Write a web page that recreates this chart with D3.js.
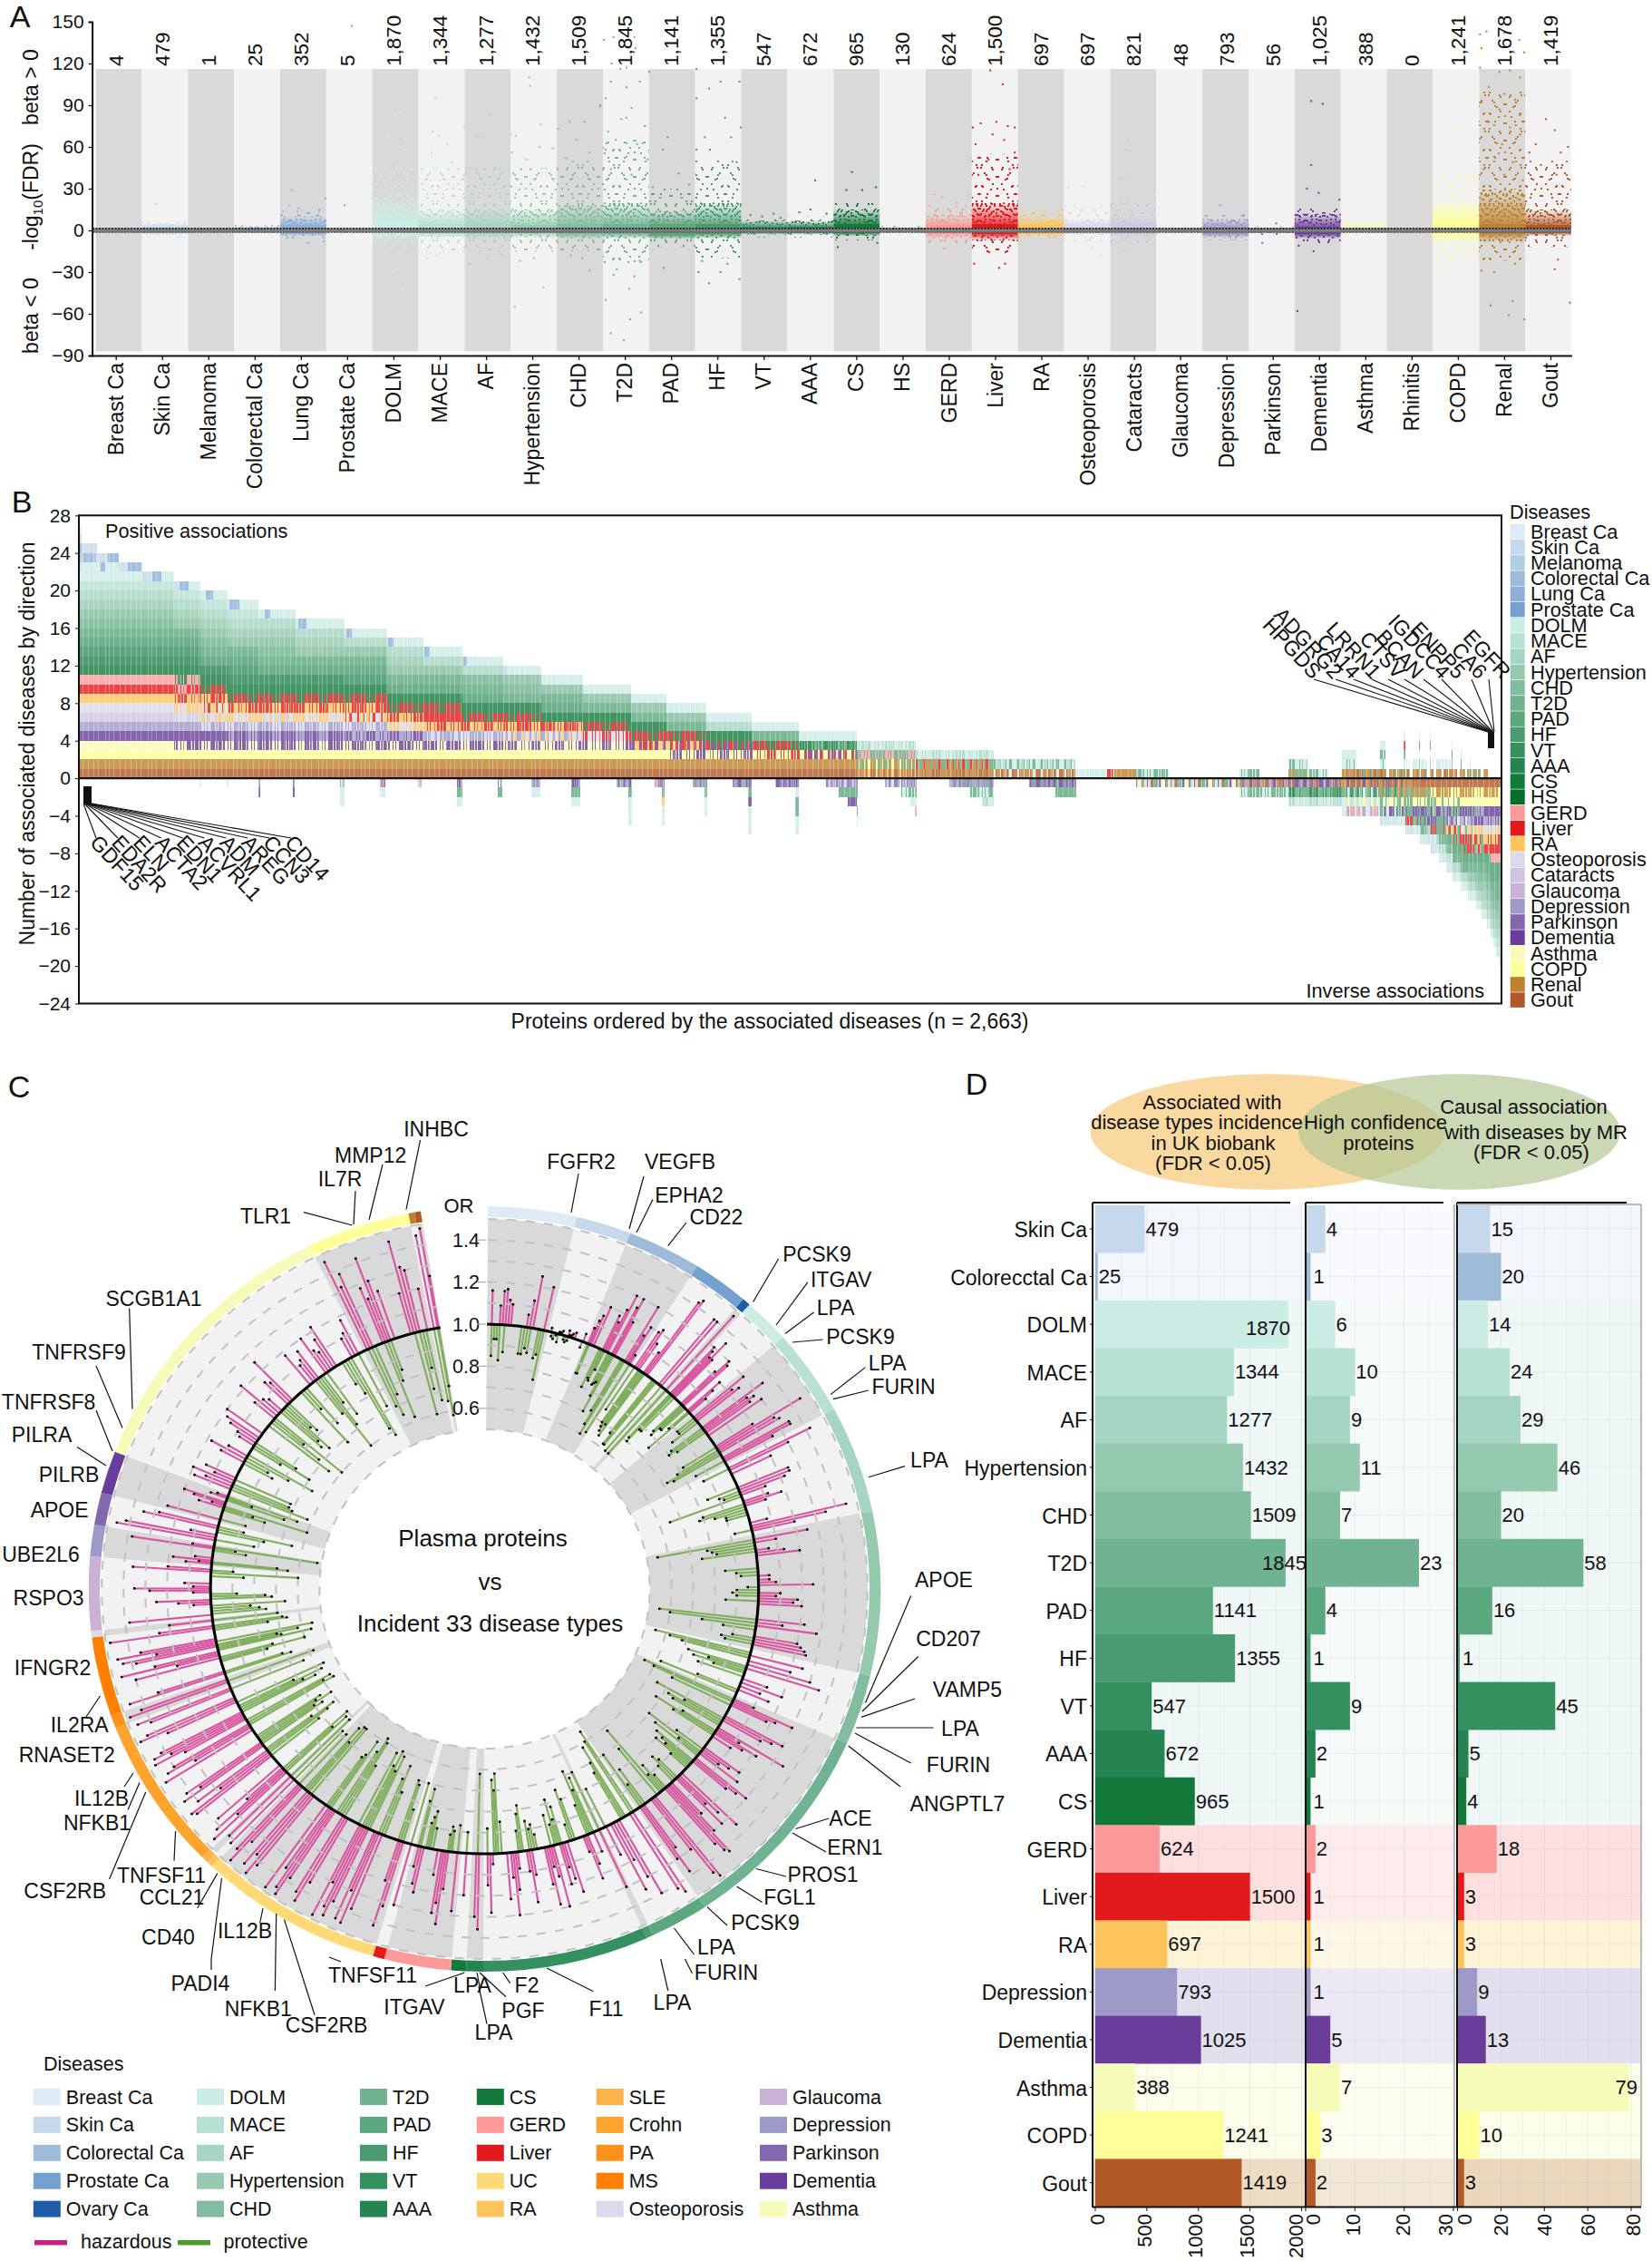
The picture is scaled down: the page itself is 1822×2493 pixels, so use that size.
<!DOCTYPE html>
<html><head><meta charset="utf-8">
<script src="https://cdn.jsdelivr.net/npm/d3@7"></script>
<style>html,body{margin:0;background:#fff}svg{display:block}text{font-family:"Liberation Sans",Arial,sans-serif;fill:#111}</style>
</head><body><svg id="c" width="1822" height="2493"></svg>
<script>
// ---------- shared disease colours
const colorOf={"Breast Ca":"#deebf7","Skin Ca":"#c6d9ec","Melanoma":"#b3cde3","Colorectal Ca":"#9ebcda","Lung Ca":"#8cb0d8","Prostate Ca":"#74a1cf","Ovary Ca":"#1c5da5","DOLM":"#ccece6","MACE":"#b8e0d4","AF":"#a6d5c4","Hypertension":"#95caaf","CHD":"#82bda0","T2D":"#6fb392","PAD":"#5ca87e","HF":"#4a9c70","VT":"#359060","AAA":"#258451","CS":"#137a3c","HS":"#006d2c","GERD":"#fb9a99","Liver":"#e31a1c","UC":"#fed976","RA":"#fec45c","SLE":"#feb24c","Crohn":"#fea32e","PA":"#fe9218","MS":"#ff7f00","Osteoporosis":"#dadaeb","Cataracts":"#d0c6e2","Glaucoma":"#c9b2d6","Depression":"#9e9ac8","Parkinson":"#8368b0","Dementia":"#6a3d9a","Asthma":"#f7fbb9","Rhinitis":"#dddddd","COPD":"#ffff99","Renal":"#bf812d","Gout":"#b15928"};

// ---------- panel A data
const diseasesA=["Breast Ca","Skin Ca","Melanoma","Colorectal Ca","Lung Ca","Prostate Ca","DOLM","MACE","AF","Hypertension","CHD","T2D","PAD","HF","VT","AAA","CS","HS","GERD","Liver","RA","Osteoporosis","Cataracts","Glaucoma","Depression","Parkinson","Dementia","Asthma","Rhinitis","COPD","Renal","Gout"];
const countsA=["4","479","1","25","352","5","1,870","1,344","1,277","1,432","1,509","1,845","1,141","1,355","547","672","965","130","624","1,500","697","697","821","48","793","56","1,025","388","0","1,241","1,678","1,419"];
const coreUp=[.5,3,.5,1.5,4,.5,8,5,5,4,5,5,5,5,3,3,5,1,4,5,4,4,4,1,3,.5,3,2,0,8,5,4];
const midUp=[1,5,1,3,10,1,25,15,15,15,18,20,14,20,7,7,15,2,11,20,10,8,10,2,8,2,12,6,0,18,30,15];
const sparseUp=[1.5,6,1.5,4,14,1.5,45,45,45,45,50,65,30,50,9,10,20,3,18,55,14,18,22,3,11,3,17,10,0,40,100,50];
const coreDown=[.5,2,.5,1,2,.5,3,3,3,2,3,3,4,3,1.5,1.5,2,.5,2,3,2,2,2,.5,3,1,3,1,0,3,3,2];
const midDown=[1,3,1,2,4,1,6,5,5,5,6,6,6,6,3,3,4,1,6,7,4,3,4,1,5,2,6,2,0,8,8,4];
const sparseDown=[1.5,5,1,2,6,1.5,13,15,15,15,15,25,12,20,5,5,7,1.5,10,18,6,8,10,1.5,7,4,10,5,0,22,22,12];
const outSkin=[[28,19],[33,19]];
const outLung=[[25,29],[20,18],[40,16],[98,23],[85,15],[60,-9],[95,-8]];
const outProstate=[[55,147],[40,18]];
const outDOLM=[[50,83],[60,85],[36,68],[72,66],[42,50],[70,58],[-3,23],[30,40],[65,-42],[55,-28],[10,-22]];
const outMACE=[[37,95],[30,71],[45,68],[62,62],[100,74],[28,56],[73,49],[40,-18],[20,-20]];
const outAF=[[56,83],[28,68],[42,67],[100,69],[25,44],[76,44],[10,-24],[50,-20],[80,-18]];
const outHyp=[[40,110],[42,104],[11,68],[65,76],[34,51],[63,60],[91,59],[3,56],[71,-41],[9,-55],[50,-20],[20,-22]];
const outCHD=[[28,78],[60,78],[3,73],[42,65],[71,56],[94,89],[20,52],[71,-29],[30,-18],[55,-20]];
const outT2D=[[2,137],[23,139],[68,139],[51,132],[70,131],[19,120],[38,116],[51,117],[17,107],[80,107],[51,103],[6,95],[40,80],[51,81],[62,88],[-6,90],[11,71],[91,75],[28,65],[74,62],[6,58],[51,53],[97,51],[17,44],[62,40],[6,-50],[57,-42],[83,-59],[59,-64],[17,-74],[45,-79],[23,-32],[68,-33],[30,-28],[80,-22]];
const outPAD=[[0,114],[40,67],[30,58],[64,41],[8,31],[87,33],[32,-27]];
const outHF=[[3,116],[3,95],[30,102],[55,107],[96,107],[65,81],[99,74],[21,67],[78,67],[3,58],[32,58],[90,49],[96,-35],[30,-38],[7,-30],[55,-30],[15,-22],[70,-24]];
const outVT=[[20,11],[45,10],[70,12],[85,9]];
const outAAA=[[60,36],[26,13],[50,15],[85,12]];
const outCS=[[40,42],[28,29],[62,29],[92,31],[9,-12],[95,-9]];
const outGERD=[[19,26],[36,24],[68,20],[80,15],[40,-13]];
const outLiver=[[40,115],[67,105],[19,77],[53,78],[78,75],[93,74],[45,69],[2,74],[70,65],[8,62],[93,56],[36,51],[82,44],[14,40],[59,-27],[72,-24],[5,-24]];
const outRA=[[50,14],[95,15],[30,12]];
const outOsteo=[[41,32],[9,31],[80,-18],[60,-12]];
const outCat=[[38,65],[33,58],[21,37],[38,36],[96,29],[30,-14]];
const outDep=[[38,18],[90,11]];
const outPark=[[60,5],[30,-9]];
const outDem=[[36,93],[61,91],[36,47],[27,30],[52,27],[97,22],[6,-58],[41,-15],[9,-11]];
const outAsth=[[70,17],[40,12]];
const outCOPD=[[25,94],[71,79],[48,75],[17,70],[54,72],[2,53],[42,49],[93,96],[100,130],[30,-32],[14,-25],[93,-38],[8,-28]];
const outRenal=[[2,141],[16,143],[55,142],[87,137],[98,128],[5,131],[2,117],[44,114],[67,115],[89,110],[21,103],[55,98],[78,94],[5,92],[44,87],[89,83],[21,78],[67,74],[5,67],[50,62],[89,69],[33,53],[73,49],[10,44],[55,40],[95,36],[25,-54],[73,-51],[64,-61],[98,-64],[33,-30],[78,-24],[5,-29]];
const outGout=[[45,80],[64,72],[23,62],[9,56],[77,56],[93,60],[34,47],[68,40],[97,-52],[64,-28],[71,-21]];
const outliersA={"Skin Ca":outSkin,"Lung Ca":outLung,"Prostate Ca":outProstate,"DOLM":outDOLM,"MACE":outMACE,"AF":outAF,"Hypertension":outHyp,"CHD":outCHD,"T2D":outT2D,"PAD":outPAD,"HF":outHF,"VT":outVT,"AAA":outAAA,"CS":outCS,"GERD":outGERD,"Liver":outLiver,"RA":outRA,"Osteoporosis":outOsteo,"Cataracts":outCat,"Depression":outDep,"Parkinson":outPark,"Dementia":outDem,"Asthma":outAsth,"COPD":outCOPD,"Renal":outRenal,"Gout":outGout};
// speckle textures used as fills of the density tiers
const speckleDense=[[1,3],[6,1],[11,5],[16,2],[22,6],[27,1],[33,4],[38,2],[3,9],[8,7],[14,10],[19,8],[25,11],[30,7],[36,9],[1,14],[5,13],[10,16],[17,14],[21,13],[28,15],[33,12],[38,15],[4,19],[9,21],[13,18],[19,20],[24,18],[29,21],[35,19],[2,24],[7,26],[12,23],[16,26],[22,24],[27,27],[32,24],[37,26],[4,30],[10,29],[15,32],[20,30],[25,33],[30,30],[35,32],[38,29],[1,35],[6,37],[12,35],[18,37],[23,38],[28,36],[33,38],[38,36]];
const speckleThin=[[3,5],[14,2],[26,8],[36,4],[8,13],[20,15],[31,17],[2,21],[13,24],[24,26],[37,24],[7,32],[18,34],[30,36],[38,13],[33,30],[19,7],[10,37]];

// ---------- panel B data
const codeToDisease={G:"Gout",R:"Renal",C:"COPD",A:"Asthma",D:"Dementia",P:"Parkinson",d:"Depression",g:"Glaucoma",c:"Cataracts",o:"Osteoporosis",a:"RA",L:"Liver",E:"GERD",S:"HS",s:"CS",v:"AAA",t:"VT",f:"HF",p:"PAD","2":"T2D",h:"CHD",y:"Hypertension",i:"AF",m:"MACE",l:"DOLM",x:"Prostate Ca",u:"Lung Ca",r:"Colorectal Ca",n:"Melanoma",k:"Skin Ca",b:"Breast Ca"};
const stackFull="G R C A D d c o a L E s v t f p 2 h y i m l";
// [last protein rank of the step, stack from zero upward]
const posSteps=[[3,stackFull+" k r u k b"],[33,stackFull+" l kr k"],[73,stackFull+" l k"],[118,stackFull+" k"],[176,stackFull],
[226,"G R C DA D d co ao aL LE Es s v t f p h y i m l"],[277,"G R C DA D do oac aoL La Ls s v f p 2 h y i m l"],[334,"G R C DA Dd do oa aL Ls s v t f p h y i m l"],[405,"G R C DA Dd do aoc La Ls s v f p 2 h y i l"],[496,"G R C DA Dd do oa aL Ls s v f p h y i l"],[575,"G R C DA dD do oaL La Ls s t f p h i l"],[643,"G R C DA dD oa aL Ls s f p h y i l"],[716,"G R C DA dod aL L Ls s f p h i l"],[793,"G R C DA do aL Ls s f p 2 i l"],[864,"G R C AD doa La Ls s p 2 h l"],[942,"G R C AD doa La s f p h l"],[1033,"G R C AD oL Ls s p h l"],[1098,"G R C aLD Ls s p h l"],[1174,"G R CD LaD Ls p h l"],[1258,"G R CD LsD s i l"],[1346,"G R CL Ls p l"],[1456,"G R CDL sp l"],[1566,"GRa RpC pE li"],[1712,"RG pRL li"],[1865,"GRl lip"],[1924,"l"],[1934,"LE"],[1944,"Rl"],[1978,"R"],[2039,"pl"],[2172,""],[2210,"pl"],[2264,""],[2300,"pR lp"],[2338,"lp"],[2364,""],[2391,"RG lp l"],[2435,"RGp"],[2445,"RG pl lp l"],[2480,"RGp_"],[2483,"RG pl lp L l"],[2508,"RGp_ l_"],[2510,"RG pL lp L l"],[2529,"RGp_ l_"],[2531,"RG pL lp L l"],[2569,"RG_ l_"],[2571,"RG p D l"],[2586,"RG_"],[2588,"RG p l"],[2604,"Rp_"],[2606,"R_ l_"],[2637,"Rp_"],[2663,""]];
const posPatches=[[5,30,23,"ru"],[39,48,22,"u"],[53,73,23,"u"],[90,115,22,"u"],[118,136,21,"k"],[136,153,21,"u"],[176,186,20,"k"],[186,204,20,"u"],[236,249,19,"u"],[280,299,18,"u"],[346,356,17,"u"],[409,425,16,"u"],[500,509,15,"u"],[578,587,14,"u"],[645,655,13,"u"],[719,726,12,"u"],[793,800,11,"k"]];
// [first rank, last rank, stack from zero downward]
const negSteps=[[224,227,"b"],[275,278,"b"],[334,338,"pD D"],[399,403,"dP D"],[488,496,"ld l l"],[563,573,"PE l"],[634,640,"cE"],[706,716,"Dd p l"],[783,791,"lP p"],[845,862,"Pd l"],[920,938,"Dd p l"],[1005,1028,"Ddp"],[1028,1034,"Ddp p l l l"],[1077,1090,"PdE"],[1090,1095,"Pd p a l l"],[1148,1170,"Pdp"],[1170,1175,"Pd p l l"],[1223,1252,"DPdp"],[1252,1258,"DP p D l l l"],[1303,1340,"DPd"],[1340,1346,"DP l p p l l"],[1397,1422,"Pdc"],[1422,1438,"Pdc p"],[1438,1455,"Pdc p D"],[1455,1458,"Pd p l p l"],[1508,1538,"Pdl"],[1538,1555,"Pdl lp"],[1555,1565,"Pd lp l"],[1565,1568,"Pd lp l E"],[1628,1668,"Pdp"],[1668,1690,"Pdp pl"],[1690,1712,"Pdp pl li"],[1778,1827,"DPp"],[1827,1866,"DPp p"],[1978,2172,"plDcAG"],[2172,2264,"DdRPG pl"],[2264,2364,"DPdG ps li"],[2364,2435,"RGD pvl lmC lEd"],[2435,2483,"GRD pRv Cpl Dpl lk"],[2483,2510,"GR Rp Cp Dp pL lk"],[2510,2530,"G Rp Cp Dp pD pi lk"],[2530,2546,"G RC Cp DAp pD pL il lk"],[2546,2559,"G RC CAp Ddp pD pL ph il lk"],[2559,2571,"G RC CAp Dp dDl Lap fp ph il lk"],[2571,2587,"G RC CAp Dp dDl Lap Lp f p i l"],[2587,2601,"G RC CA Dp dDl oap Lp fL f p i l"],[2601,2615,"G RC CA Dp dD oap aLp Lp f p h i l"],[2615,2626,"G RC CA Dd dD oa aLp LEp f p 2 h i l"],[2626,2636,"G RC CA Dd dD oa aLp LEp f p 2 h y i l"],[2636,2643,"G RC CA D dD oa aL LE f f p 2 h y i l"],[2643,2648,"G RC CA D dD oa aL L E f f p 2 h y i l"],[2648,2653,"G RC CA D dD oa aL L E f f p p 2 h y i l"],[2653,2658,"G RC CA D dD oa aL L E f f p p 2 h y i m l"],[2658,2661,"G RC CA D d oa aL L E f f p p 2 2 h y i m l"],[2661,2663,"G RC CA D d oa aL L E f f p p 2 2 h y i m l k b"]];
const legendB=["Breast Ca","Skin Ca","Melanoma","Colorectal Ca","Lung Ca","Prostate Ca","DOLM","MACE","AF","Hypertension","CHD","T2D","PAD","HF","VT","AAA","CS","HS","GERD","Liver","RA","Osteoporosis","Cataracts","Glaucoma","Depression","Parkinson","Dementia","Asthma","COPD","Renal","Gout"];
const genesBLeft=["GDF15","EDA2R","ELN","ACTA2","EDN1","ACVRL1","ADM","AREG","CCN3","CD14"];
const genesBRight=["HPGDS","ADGRG2","CA14","LRRN1","CTSV","BCAN","IGDCC4","ENPP5","CA6","EGFR"];

// ---------- panel C data : one array of odds ratios per disease, in angular order
const ringNames=["Breast Ca","Skin Ca","Colorectal Ca","Prostate Ca","Ovary Ca","DOLM","MACE","AF","Hypertension","CHD","T2D","PAD","HF","VT","AAA","CS","GERD","Liver","UC","RA","SLE","Crohn","PA","MS","Osteoporosis","Glaucoma","Depression","Parkinson","Dementia","Asthma","COPD","Renal","Gout"];
const ringSpan=[13,8.1,10.9,8.3,1.2,6.9,13.1,16.2,24.9,10.7,32.4,8.6,1,24.4,2.5,2.2,9.8,1.7,27.1,1,1,23.2,2,12,1,11.2,4.8,4.9,6.4,42.7,15.2,.9,.9];
const hazBreast=[1.16,1.09,1.16,1.17,1.12,1.1,1.06,1.13,1.25,1.21];
const proBreast=[.85,.93,.93,.83,.87,.87,.87,.9,.88,.86,.88,.76];
const hazSkin=[1.02,1.01,1.01,1.02,1.03,1.01,1.01,1.02,1.03,1.04];
const proSkin=[.98,.97,.99,.96,.98,.97,.98,.97];
const hazColo=[1.08,1.12,1.15,1.2,1.18,1.15,1.22,1.3,1.25,1.3,1.18,1.3,1.15,1.2,1.05];
const proColo=[.85,.85,.8,.85,.84,.9,.83,.84,.85,.78,.7,.72,.65,.6,.62];
const hazPros=[1.2,1.22,1.15,1.12,1.42,1.44,1.4,1.4];
const proPros=[.76,.7,.68,.66,.7,.64,.68,.62,.62,.6];
const hazOvary=[1.47];const proOvary=[.6];
const hazDOLM=[1.3,1.28,1.25,1.35,1.25,1.22,1.3,1.28,1.2,1.15,1.1];
const proDOLM=[.72,.7,.78,.78,.82,.8,.85,.85,.88,.75];
const hazMACE=[1.3,1.22,1.25,1.35,1.25,1.28,1.25,1.3,1.2,1.45,1.3,1.32,1.35,1.35,1.25];
const proMACE=[.9,.9,.85,.82,.8,.84,.82,.78,.72,.75,.85];
const hazAF=[1.42,1.3,1.2,1.25,1.25,1.22,1.12,1.12,1.18,1.1,1.08,1.45,1.35,1.2];
const proAF=[.87,.85,.9,.92,.65,.8,.78,.85,.9,.9,.92];
const hazHyp=[1.25,1.1,1.06,1.13,1.2,1.05,1.05,1.08,1.25,1.1,1.08,1.18,1.16,1.2,1.22,1.12,1.28,1.2,1.22,1.24,1.25];
const proHyp=[.55,.78,.8,.82,.75,.85,.9,.92,.95,.9,.88,.9,.85,.55,.6,.75,.85,.9,.85,.87];
const hazCHD=[1.25,1.2,1.3,1.35,1.12,1.2,1.1,1.15];
const proCHD=[.55,.62,.68,.72,.82,.75,.85,.78,.8,.62];
const hazT2D=[1.1,1.3,1.22,1.18,1.3,1.25,1.2,1.35,1.12,1.22,1.15,1.1,1.2,1.15,1.1,1.22,1.3,1.25,1.2,1.35,1.25,1.18,1.3,1.2,1.3,1.42,1.4,1.35,1.48,1.45,1.3,1.25,1.38,1.3];
const proT2D=[.55,.6,.7,.65,.8,.72,.75,.82,.68,.78,.85,.7,.88,.75,.78,.82,.85,.8,.9,.88,.85,.9,.92,.85,.9,.62,.72,.8,.88,.7];
const hazPAD=[1.45,1.42,1.4,1.3,1.2,1.35,1.15];
const proPAD=[.55,.6,.62,.7,.75,.8];
const hazHF=[1.3];const proHF=[.7];
const hazVT=[1.1,1.15,1.22,1.08,1.25,1.18,1.12,1.2,1.3,1.15,1.1,1.28,1.18,1.12,1.25,1.1,1.08,1.18,1.3,1.12,1.22,1.05,1.28,1.15];
const proVT=[.72,.78,.68,.85,.8,.75,.92,.82,.88,.78,.9,.85,.93,.88,.9,.86,.78,.82,.9,.85,.62,.7,.65,.88];
const hazAAA=[1.36,1.3];const proAAA=[.62];
const hazCS=[1.2];const proCS=[.9];
const hazGERD=[1.28,1.18,1.35,1.25,1.3,1.12,1.22,1.18,1.1];
const proGERD=[.87,.9,.88,.92,.9,.82,.85,.88,.72,.78];
const hazLiver=[1.3];const proLiver=[.7];
const hazUC=[1.32,1.42,1.2,1.38,1.46,1.3,1.45,1.38,1.46,1.42,1.3,1.48,1.35,1.46,1.42,1.38,1.48,1.45,1.35,1.48,1.42,1.48,1.38,1.45,1.35,1.48,1.42];
const proUC=[.84,.72,.7,.78,.65,.72,.62,.7,.6,.68,.62,.72,.6,.58,.66,.62,.7,.72,.6,.6,.7,.62,.68];
const hazRA=[1.42];const proRA=[.68];
const hazSLE=[1.4];const proSLE=[.62];
const hazCrohn=[1.46,1.3,1.42,1.22,1.38,1.44,1.46,1.28,1.4,1.45,1.35,1.42,1.47,1.3,1.44,1.4,1.32,1.47,1.38,1.46,1.42,1.35,1.48,1.44,1.4,1.46];
const proCrohn=[.62,.7,.6,.72,.66,.62,.74,.66,.7,.6,.68,.65,.55,.6,.56,.62,.68,.58,.72,.56,.64];
const hazPA=[1.48,1.42];const proPA=[.58];
const hazMS=[1.46,1.32,1.4,1.2,1.46,1.3,1.38,1.44,1.28,1.46,1.35,1.48,1.25];
const proMS=[.68,.72,.78,.6,.75,.56,.7,.72,.62,.55,.75,.66,.68];
const hazOsteo=[1.2];const proOsteo=[.7];
const hazGlau=[1.38,1.08,1.15,1.25,1.08,1.28,1.35,1.08,1.12,1.36,1.2];
const proGlau=[.75,.78,.82,.66,.72,.75,.88,.85,.6,.9];
const hazDep=[1.12,1.06,1.18,1.08,1.38,1.1];
const proDep=[.65,.7,.85,.9,.52];
const hazPark=[1.46,1.42,1.12,1.35,1.28];
const proPark=[.82,.78,.65,.88];
const hazDem=[1.25,1.12,1.06,1.15,1.2,1.08,1.05];
const proDem=[.88,.8,.86,.6,.72,.88,.66];
const hazAsth=[1.18,1.13,1.2,1.1,1.15,1.12,1.18,1.1,1.08,1.1,1.15,1.18,1.2,1.12,1.22,1.1,1.08,1.15,1.13,1.25,1.18,1.1,1.12,1.16,1.2,1.12,1.1,1.16,1.22,1.1,1.12,1.18];
const proAsth=[.62,.7,.72,.72,.85,.88,.78,.66,.85,.7,.78,.65,.72,.82,.6,.75,.78,.72,.85,.82,.68,.88,.78,.8,.6,.72,.84,.76,.88,.82,.62,.58,.72];
const hazCOPD=[1.46,1.32,1.38,1.28,1.22,1.42,1.3,1.24,1.2,1.45,1.32,1.3,1.2];
const proCOPD=[.7,.65,.75,.62,.8,.85,.6,.72,.82,.66];
const hazRenal=[1.45];const proRenal=[.65];
const hazGout=[1.48,1.25];const proGout=[.58,.72];
const hazByDisease=[hazBreast,hazSkin,hazColo,hazPros,hazOvary,hazDOLM,hazMACE,hazAF,hazHyp,hazCHD,hazT2D,hazPAD,hazHF,hazVT,hazAAA,hazCS,hazGERD,hazLiver,hazUC,hazRA,hazSLE,hazCrohn,hazPA,hazMS,hazOsteo,hazGlau,hazDep,hazPark,hazDem,hazAsth,hazCOPD,hazRenal,hazGout];
const proByDisease=[proBreast,proSkin,proColo,proPros,proOvary,proDOLM,proMACE,proAF,proHyp,proCHD,proT2D,proPAD,proHF,proVT,proAAA,proCS,proGERD,proLiver,proUC,proRA,proSLE,proCrohn,proPA,proMS,proOsteo,proGlau,proDep,proPark,proDem,proAsth,proCOPD,proRenal,proGout];
// relative spacing between neighbouring proteins (they sit in tight bundles)
const bundleGaps=[1,.35,.35,.35,.35,2,.4,.4,1.4,.35,.35,.35,.6,2.2,.4,.4,.4,1,.35,.35,2.6,.5,.35,.35];
const orTicks=[1.4,1.2,1.0,0.8,0.6];
const orGrid=[.5,.6,.7,.8,.9,1.1,1.2,1.3,1.4,1.5];
const geneLabels=[["INHBC",481,1245,463.5,1257,448,1333.5],["MMP12",408.6,1273.5,422,1284,407,1345],["IL7R",375,1300,392,1313,390,1350],["TLR1",293,1341,335,1336.7,388.5,1351],["SCGB1A1",169.5,1432,142.7,1442.5,146,1553.5],["TNFRSF9",87,1491,106,1506,135,1574.5],["TNFRSF8",53.6,1546,106,1555,124,1600],["PILRA",46,1582,85,1595.6,117,1616],["PILRB",76,1626],["APOE",65.6,1664.5],["UBE2L6",45,1714],["RSPO3",53.6,1762],["IFNGR2",58,1839],["IL2RA",87.7,1902,110.5,1870,95,1893],["RNASET2",73.7,1935],["IL12B",112,1983,147,1955,137,1970],["NFKB1",107,2010,154,1965.5,141,1995.5],["CSF2RB",71.7,2085,160.7,1976,120.6,2072],["TNFSF11",178,2067.5,193.6,2019,192,2051.6],["CCL21",189.5,2092,239.8,2065.6,217.7,2104],["CD40",185.5,2136,244.5,2071,233,2160],["IL12B",270,2129,290,2104,286.7,2120],["PADI4",221,2186.7,233,2160,233,2172],["NFKB1",284.7,2215,304.7,2110,303.4,2195],["CSF2RB",360,2232.7,313.5,2116.6,347,2221.7],["TNFSF11",411,2178,363,2158,376,2163],["ITGAV",457,2212.7,512.4,2175,469,2190],["LPA",521,2189,526,2175,529,2190],["PGF",577,2216.7,529,2175,558,2201.7],["F2",581,2189,554.6,2175,562.6,2186.7],["LPA",544.5,2241,528,2190,537,2231.7],["F11",668.5,2215,603,2170,654.4,2195.7],["LPA",741.5,2207.7,728.7,2160,736.8,2195],["FURIN",801,2175,755.5,2160,763.5,2176],["LPA",790,2146.6,743.5,2126,765.6,2155],["PCSK9",844,2120,780,2102.6,802,2123],["FGL1",871,2092,812.5,2080,840.6,2097.5],["PROS1",907.6,2067,834,2060.5,867,2069],["ERN1",943,2037,874,2021,911,2042],["ACE",938,2005,877.4,2016.5,914,2005],["ANGPTL7",1056,1989,935.7,1925,993,1970],["FURIN",1057,1946,943,1911,1004.7,1944],["LPA",1059,1906,944.4,1905,1029.5,1905],["VAMP5",1067,1863,950,1893.4,1009,1873],["CD207",1046,1807,951,1887,1012.7,1826.5],["APOE",1041,1742,954.5,1877.5,1004.7,1759.5],["LPA",1025,1610,958,1628.8,998,1616.6],["FURIN",996.6,1528.6,919,1542.6,957.8,1533],["LPA",978.6,1503,916,1537.6,954.5,1507.6],["PCSK9",949,1474,874,1480,907.6,1477],["LPA",921.6,1442,866,1470.6,897.5,1447],["ITGAV",927.6,1410.6,856,1461,890.8,1413.8],["PCSK9",901,1383,830.6,1435.5,858.6,1388],["CD22",790,1342,736.8,1373.6,756.9,1348],["EPHA2",760,1318,702,1359,720,1322.6],["VEGFB",750,1281,694,1355,710,1297],["FGFR2",641,1281,630,1337,638,1294]];
const legendCCols=[["Breast Ca","Skin Ca","Colorectal Ca","Prostate Ca","Ovary Ca"],["DOLM","MACE","AF","Hypertension","CHD"],["T2D","PAD","HF","VT","AAA"],["CS","GERD","Liver","UC","RA"],["SLE","Crohn","PA","MS","Osteoporosis"],["Glaucoma","Depression","Parkinson","Dementia","Asthma"]];

// ---------- panel D data
const rowsD=["Skin Ca","Colorecctal Ca","DOLM","MACE","AF","Hypertension","CHD","T2D","PAD","HF","VT","AAA","CS","GERD","Liver","RA","Depression","Dementia","Asthma","COPD","Gout"];
const rowColorKeys=["Skin Ca","Colorectal Ca","DOLM","MACE","AF","Hypertension","CHD","T2D","PAD","HF","VT","AAA","CS","GERD","Liver","RA","Depression","Dementia","Asthma","COPD","Gout"];
const ukbCounts=[479,25,1870,1344,1277,1432,1509,1845,1141,1355,547,672,965,624,1500,697,793,1025,388,1241,1419];
const highConfCounts=[4,1,6,10,9,11,7,23,4,1,9,2,1,2,1,1,1,5,7,3,2];
const mrCounts=[15,20,14,24,29,46,20,58,16,1,45,5,4,18,3,3,9,13,79,10,3];
const ticksUKB=[0,500,1000,1500,2000];const ticksHC=[0,10,20,30];const ticksMR=[0,20,40,60,80];

// ================= drawing
const svg=d3.select("#c");const defs=svg.append("defs");
const txt=(g,s,x,y,o={})=>{const t=g.append("text").attr("x",x).attr("y",y).attr("font-size",o.size||22).attr("text-anchor",o.anchor||"start").attr("dy",o.dy??".35em").text(s);if(o.rot!=null)t.attr("transform",`rotate(${o.rot} ${x} ${y})`);return t;};
[["A",22,18],["B",24,553],["C",21,1198],["D",1077,1195]].forEach(([s,x,y])=>txt(svg,s,x,y,{size:34,anchor:"middle"}));

// ---- A
const A=svg.append("g");
const yA=d3.scaleLinear().domain([-90,150]).range([392,24]);
const bandA=d3.scaleBand().domain(diseasesA).range([105.6,1733]);
const tickA=d3.scalePoint().domain(diseasesA).range([127.7,1710]);
const speckle=(name,col,pts)=>{const p=defs.append("pattern").attr("id",name).attr("patternUnits","userSpaceOnUse").attr("width",40).attr("height",40);
 p.selectAll("rect").data(pts).join("rect").attr("x",d=>d[0]).attr("y",d=>d[1]).attr("width",2).attr("height",2).attr("fill",col);};
const fade=(name,col,top)=>{const g=defs.append("linearGradient").attr("id",name).attr("x1",0).attr("x2",0).attr("y1",0).attr("y2",1);
 g.append("stop").attr("offset",0).attr("stop-color",col).attr("stop-opacity",top?0:.8);g.append("stop").attr("offset",1).attr("stop-color",col).attr("stop-opacity",top?.8:0);};
const mirrored=pts=>pts.map(([x,y])=>[38-x,y]);
const tileDense=[...speckleDense,...mirrored(speckleDense),...speckleThin];
const tileThin=[...speckleThin,...mirrored(speckleThin)];
diseasesA.forEach((d,i)=>{speckle("sd"+i,colorOf[d],tileDense);speckle("st"+i,colorOf[d],tileThin);fade("fu"+i,colorOf[d],true);fade("fd"+i,colorOf[d],false);});
A.selectAll(".bg").data(diseasesA).join("rect").attr("x",d=>bandA(d)).attr("width",bandA.bandwidth()).attr("y",yA(116)).attr("height",yA(-87)-yA(116)).attr("fill",(d,i)=>i%2?"#f2f2f2":"#d9d9d9");
diseasesA.forEach((d,i)=>{const x=bandA(d),w=bandA.bandwidth();
 const seg=(a,b,f)=>A.append("rect").attr("x",x).attr("width",w).attr("y",yA(Math.max(a,b))).attr("height",Math.abs(yA(a)-yA(b))).attr("fill",f);
 seg(sparseUp[i],midUp[i],`url(#st${i})`);seg(midUp[i],coreUp[i],`url(#sd${i})`);
 seg(-sparseDown[i],-midDown[i],`url(#st${i})`);seg(-midDown[i],-coreDown[i],`url(#sd${i})`);
 seg(midUp[i],coreUp[i],`url(#fu${i})`);seg(-midDown[i],-coreDown[i],`url(#fd${i})`);
 seg(coreUp[i],-coreDown[i],colorOf[d]);
 (outliersA[d]||[]).forEach(p=>A.append("rect").attr("x",x+p[0]/100*w-1).attr("y",yA(p[1])-1).attr("width",2).attr("height",2).attr("fill",colorOf[d]));
});
A.append("rect").attr("x",bandA.range()[0]-4).attr("width",bandA.range()[1]-bandA.range()[0]+4).attr("y",yA(1.6)).attr("height",yA(-1.6)-yA(1.6)).attr("fill","#808080");
[1.3,-1.3].forEach(v=>A.append("line").attr("x1",102).attr("x2",1733).attr("y1",yA(v)).attr("y2",yA(v)).attr("stroke",v>0?"#111":"#555").attr("stroke-width",1.5).attr("stroke-dasharray","2 1.5"));
const axAy=A.append("g").attr("transform","translate(101.6,0)").call(d3.axisLeft(yA).tickValues([-90,-60,-30,0,30,60,90,120,150]).tickSize(4).tickFormat(d=>d<0?"−"+(-d):d));
const axAx=A.append("g").attr("transform","translate(0,392)").call(d3.axisBottom(tickA).tickSize(5).tickFormat(""));
[axAy,axAx].forEach(g=>{g.selectAll("path").attr("stroke-width",2).attr("stroke","#111");g.selectAll("line").attr("stroke","#111").attr("stroke-width",1.3);});
axAy.selectAll("text").attr("font-size",21).attr("dx","-2");
axAx.select("path").attr("d","M101.6,0.5H1734");
diseasesA.forEach((d,i)=>{const x=tickA(d);
 txt(A,d,x,400,{size:23,anchor:"end",rot:-90});
 txt(A,countsA[i],x,73,{size:22.5,anchor:"start",rot:-90});});
const lg=A.append("text").attr("transform","translate(34,217) rotate(-90)").attr("text-anchor","middle").attr("dy",".35em").attr("font-size",23);
lg.append("tspan").text("-log");lg.append("tspan").attr("font-size",15).attr("dy",5).text("10");lg.append("tspan").attr("dy",-5).text("(FDR)");
txt(A,"beta > 0",34,96,{size:23,anchor:"middle",rot:-90});txt(A,"beta < 0",34,348,{size:23,anchor:"middle",rot:-90});

// ---- B
const B=svg.append("g");
const xB=d3.scaleLinear().domain([0,2663]).range([88,1656]);
const yB=d3.scaleLinear().domain([-24,28]).range([1106.5,568.3]);
const stripeW=[3,1,2,1,4,1,2,3,1,2,1,3,2];
const fillMemo={};
const fillOf=tok=>{if(fillMemo[tok])return fillMemo[tok];
 if(tok.length===1&&tok!=="_")return fillMemo[tok]=colorOf[codeToDisease[tok]];
 const id="mix"+Object.keys(fillMemo).length;const p=defs.append("pattern").attr("id",id).attr("patternUnits","userSpaceOnUse").attr("width",d3.sum(stripeW)).attr("height",40);
 let x=0;stripeW.forEach((w,i)=>{const c=tok[i%tok.length];if(c!=="_")p.append("rect").attr("x",x).attr("y",0).attr("width",w).attr("height",40).attr("fill",colorOf[codeToDisease[c]]);x+=w;});
 return fillMemo[tok]=`url(#${id})`;};
// fine pale verticals running through every stacked column
const veil=defs.append("pattern").attr("id","veil").attr("patternUnits","userSpaceOnUse").attr("width",47).attr("height",40);
[3,9,14,22,26,31,38,44].forEach(x=>veil.append("rect").attr("x",x).attr("y",0).attr("width",1).attr("height",40).attr("fill","#fff").attr("opacity",.28));
const stacks=B.append("g").attr("opacity",.8).attr("shape-rendering","crispEdges");
const drawCell=(r0,r1,lv,tok,sign)=>{const a=sign>0?lv+1:-lv,b=sign>0?lv:-lv-1;
 const geom=s=>s.attr("x",xB(r0)).attr("width",Math.max(xB(r1)-xB(r0),1)).attr("y",yB(a)).attr("height",yB(b)-yB(a));
 geom(stacks.append("rect")).attr("fill",fillOf(tok));geom(stacks.append("rect")).attr("fill","url(#veil)");};
let prev=0;posSteps.forEach(([end,s])=>{if(s)s.split(" ").forEach((t,i)=>drawCell(prev,end,i,t,1));prev=end;});
posPatches.forEach(([a,b,l,t])=>drawCell(a,b,l,t,1));
negSteps.forEach(([a,b,s])=>s.split(" ").forEach((t,i)=>drawCell(a,b,i,t,-1)));
B.append("rect").attr("x",87).attr("y",568.3).attr("width",1569).attr("height",538.2).attr("fill","none").attr("stroke","#111").attr("stroke-width",2);
B.append("line").attr("x1",87).attr("x2",1656).attr("y1",yB(0)).attr("y2",yB(0)).attr("stroke","#111").attr("stroke-width",2.4);
const axB=B.append("g").attr("transform","translate(87,0)").call(d3.axisLeft(yB).tickValues(d3.range(-24,29,4)).tickSize(4).tickFormat(d=>d<0?"−"+(-d):d));
axB.select("path").remove();axB.selectAll("line").attr("stroke","#111");axB.selectAll("text").attr("font-size",21).attr("dx","-2");
txt(B,"Number of associated diseases by direction",30,820,{size:23,anchor:"middle",rot:-90});
txt(B,"Positive associations",116,585,{size:21.7});
txt(B,"Inverse associations",1637,1092,{size:21.7,anchor:"end"});
txt(B,"Proteins ordered by the associated diseases (n = 2,663)",849,1126,{size:23,anchor:"middle"});
txt(B,"Diseases",1665,564,{size:21.7});
const yLegB=d3.scalePoint().domain(legendB).range([586,1102.6]);
legendB.forEach(d=>{B.append("rect").attr("x",1665.7).attr("y",yLegB(d)-8.3).attr("width",16).attr("height",16.6).attr("fill",colorOf[d]);txt(B,d,1688,yLegB(d),{size:21.7});});
// gene callouts
const leftX=d3.scalePoint().domain(genesBLeft).range([106,321]);
const leftStart=d3.scalePoint().domain(genesBLeft).range([92,101]);
B.append("rect").attr("x",92).attr("y",867).attr("width",9).attr("height",19).attr("fill","#111");
genesBLeft.forEach(g=>{B.append("line").attr("x1",leftStart(g)).attr("y1",886).attr("x2",leftX(g)).attr("y2",924).attr("stroke","#111").attr("stroke-width",1.1);
 B.append("text").attr("transform",`translate(${leftX(g)-8},${930}) rotate(47)`).attr("font-size",23).text(g);});
const rightX=d3.scaleOrdinal().domain(genesBRight).range([1449,1473,1493,1513,1531,1549,1570,1590,1623,1642]);
const rightEnd=d3.scaleOrdinal().domain(genesBRight).range([1447,1470,1490,1513,1540,1560,1589,1606,1630,1656]);
const rightStart=d3.scalePoint().domain(genesBRight).range([1641,1648]);
B.append("rect").attr("x",1641).attr("y",807).attr("width",7).attr("height",18).attr("fill","#111");
genesBRight.forEach(g=>{B.append("line").attr("x1",rightStart(g)).attr("y1",807).attr("x2",rightX(g)).attr("y2",749).attr("stroke","#111").attr("stroke-width",1.1);
 B.append("text").attr("transform",`translate(${rightEnd(g)},${750}) rotate(47)`).attr("font-size",23).attr("text-anchor","end").text(g);});

// ---- C
const C=svg.append("g").attr("transform","translate(534.5,1752) scale(1.035,1)");
const rC=d3.scaleLinear().domain([1,1.5]).range([292,408]);
const cumul=d3.cumsum(ringSpan);
const ang=d3.scaleLinear().domain([0,d3.sum(ringSpan)]).range([0.5*Math.PI/180,(0.5+d3.sum(ringSpan))*Math.PI/180]);
const sectorAng=ringNames.map((d,i)=>[ang(i?cumul[i-1]:0),ang(cumul[i])]);
const arc=d3.arc();
ringNames.forEach((d,i)=>{const [a0,a1]=sectorAng[i];
 C.append("path").attr("d",arc({innerRadius:rC(.5),outerRadius:rC(1.5),startAngle:a0,endAngle:a1})).attr("fill",i%2?"#f2f2f2":"#d9d9d9");
 C.append("path").attr("d",arc({innerRadius:410,outerRadius:422,startAngle:a0,endAngle:a1})).attr("fill",colorOf[d]);});
const sweep=ang.range();
const arcLine=r=>{const p=d3.path();p.arc(0,0,r,sweep[0]-Math.PI/2,sweep[1]-Math.PI/2);return p.toString();};
const marks=C.append("g");
const dotsG=C.append("g");
// angular position of every protein of a sector: a scale over cumulative bundle gaps
const bundleScale=(n,i,offset)=>{let c=0;const cum=[];for(let k=0;k<n;k++){cum.push(c);c+=bundleGaps[(k+i*5+offset)%bundleGaps.length];}
 const s=d3.scaleLinear().domain([-.6,Math.max(cum[n-1],.01)+.6]).range(sectorAng[i]);return k=>s(cum[k]);};
const drawOr=(arr,i,col,offset)=>{const s=bundleScale(arr.length,i,offset);
 arr.forEach((v,k)=>{const [x1,y1]=d3.pointRadial(s(k),rC(1)),[x2,y2]=d3.pointRadial(s(k),rC(v));
  marks.append("line").attr("x1",x1).attr("y1",y1).attr("x2",x2).attr("y2",y2).attr("stroke",col).attr("stroke-width",2.1);
  dotsG.append("circle").attr("cx",x2).attr("cy",y2).attr("r",1.4).attr("fill","#000");});};
ringNames.forEach((d,i)=>{drawOr(hazByDisease[i],i,"#d8559f",0);drawOr(proByDisease[i],i,"#7fae5c",9);});
orGrid.forEach(v=>marks.append("path").attr("d",arcLine(rC(v))).attr("fill","none").attr("stroke","#c2c2c2").attr("stroke-width",2).attr("stroke-dasharray","10 10"));
C.append("path").attr("d",arcLine(rC(1))).attr("fill","none").attr("stroke","#000").attr("stroke-width",3);
const Ct=svg.append("g");
txt(Ct,"OR",506,1329,{size:22,anchor:"middle"});
orTicks.forEach(v=>{const y=1752-rC(v);txt(Ct,v.toFixed(1),529,y,{size:21.5,anchor:"end"});Ct.append("line").attr("x1",526).attr("x2",536).attr("y1",y).attr("y2",y).attr("stroke","#aaa").attr("stroke-width",1.2);});
txt(Ct,"Plasma proteins",532.5,1695.7,{size:26,anchor:"middle"});txt(Ct,"vs",540.5,1743.6,{size:26,anchor:"middle"});txt(Ct,"Incident 33 disease types",540.5,1789.5,{size:26,anchor:"middle"});
geneLabels.forEach(g=>{txt(Ct,g[0],g[1],g[2],{size:23,anchor:"middle"});if(g.length>3)Ct.append("line").attr("x1",g[3]).attr("y1",g[4]).attr("x2",g[5]).attr("y2",g[6]).attr("stroke","#111").attr("stroke-width",1.2);});
txt(Ct,"Diseases",48,2275,{size:21.5});
const colX=d3.scaleOrdinal().domain(d3.range(6)).range([36.8,217,397,525.8,657.7,838]);
const rowY=d3.scalePoint().domain(d3.range(5)).range([2312,2435.6]);
legendCCols.forEach((col,c)=>col.forEach((d,r)=>{Ct.append("rect").attr("x",colX(c)).attr("y",rowY(r)-9).attr("width",30).attr("height",18).attr("fill",colorOf[d]);txt(Ct,d,colX(c)+36,rowY(r),{size:21.5});}));
Ct.append("rect").attr("x",38).attr("y",2470).attr("width",36).attr("height",5.5).attr("fill","#c8207f");txt(Ct,"hazardous",89,2471,{size:21.5});
Ct.append("rect").attr("x",196).attr("y",2470).attr("width",36).attr("height",5.5).attr("fill","#4e9a28");txt(Ct,"protective",246.5,2471,{size:21.5});

// ---- D
const D=svg.append("g");
D.append("ellipse").attr("cx",1398).attr("cy",1248).attr("rx",195.5).attr("ry",63.7).attr("fill","#fad9a0");
D.append("ellipse").attr("cx",1609.5).attr("cy",1248).attr("rx",177.5).attr("ry",63.7).attr("fill","#b3c795").attr("opacity",.7);
[["Associated with",1337,1215],["disease types incidence",1320,1237],["in UK biobank",1338,1260],["(FDR < 0.05)",1338,1282],["High confidence",1517,1237],["proteins",1520.4,1260],["Causal association",1680.5,1220],["with diseases by MR",1694,1248.4],["(FDR < 0.05)",1689,1270.7]].forEach(l=>txt(D,l[0],l[1],l[2],{size:22,anchor:"middle"}));
const yD=d3.scaleBand().domain(rowsD).range([1328.7,2433]);
const groupTint=i=>i<2?["#f3f7fc","#f8fafd","#f3f7fc"]:i<13?["#eff8f6","#f6fbfa","#f0f8f7"]:i<15?["#fddfe0","#feecec","#fddfe0"]:i===15?["#fff3d8","#fff7e6","#fff3d8"]:i<18?["#e2e0ef","#ece9f4","#e2e0ef"]:i<20?["#fcfeea","#fdfef0","#fcfeea"]:["#eedcc5","#f2e6d6","#ebd7bc"];
const panelsD=[{vals:ukbCounts,ticks:ticksUKB,scale:d3.scaleLinear().domain([0,2000]).range([1208,1435.5]),left:1205,right:1439,lineEnd:1423,labelX:[1210,1262,1318.5,1375,1429]},
 {vals:highConfCounts,ticks:ticksHC,scale:d3.scaleLinear().domain([0,30]).range([1440,1603]),left:1440,right:1604,lineEnd:1592,labelX:[1448,1492,1547,1594]},
 {vals:mrCounts,ticks:ticksMR,scale:d3.scaleLinear().domain([0,80]).range([1607.6,1799]),left:1607,right:1810,lineEnd:1794,labelX:[1615,1655,1703,1751,1801]}];
panelsD.forEach((p,pi)=>{
 rowsD.forEach((r,i)=>D.append("rect").attr("x",p.left).attr("width",p.right-p.left).attr("y",yD(r)).attr("height",yD.bandwidth()+.5).attr("fill",groupTint(i)[pi]));
 const minor=[];p.ticks.forEach((t,i)=>{minor.push(t);if(i<p.ticks.length-1)minor.push((t+p.ticks[i+1])/2);});
 minor.forEach(t=>D.append("line").attr("x1",p.scale(t)).attr("x2",p.scale(t)).attr("y1",1328.7).attr("y2",2433).attr("stroke","#9aa")
  .attr("stroke-opacity",p.ticks.includes(t)?.18:.09));
 rowsD.forEach(r=>D.append("line").attr("x1",p.left).attr("x2",p.right).attr("y1",yD(r)+yD.bandwidth()/2).attr("y2",yD(r)+yD.bandwidth()/2).attr("stroke","#9aa").attr("stroke-opacity",.15));
 D.selectAll(null).data(p.vals).join("rect").attr("x",p.scale(0)).attr("y",(d,i)=>yD(rowsD[i])).attr("width",d=>p.scale(d)-p.scale(0)).attr("height",yD.bandwidth()+.3).attr("fill",(d,i)=>colorOf[rowColorKeys[i]]);
 p.vals.forEach((v,i)=>{const yc=yD(rowsD[i])+yD.bandwidth()/2;let x=p.scale(v)+1,a="start",y=yc;
  if(pi===0&&v===1870){x=1423;a="end";y+=4;}
  if(pi===0&&v===1845){x=1441;a="end";}
  if(pi===2&&v===79){x=1806;a="end";}
  if(v===1&&pi>0)x+=2;
  txt(D,v,x,y,{size:22,anchor:a});});
 D.append("line").attr("x1",p.left).attr("x2",p.left).attr("y1",1326).attr("y2",2434).attr("stroke","#111").attr("stroke-width",2);
 D.append("line").attr("x1",p.left).attr("x2",p.lineEnd).attr("y1",1326).attr("y2",1326).attr("stroke","#111").attr("stroke-width",2);
 p.ticks.forEach((t,k)=>{D.append("line").attr("x1",p.scale(t)).attr("x2",p.scale(t)).attr("y1",2433).attr("y2",2438).attr("stroke","#111");
  txt(D,t,p.labelX[k],2441,{size:22,anchor:"end",rot:-90});});
});
[[1604,1328,1604,2433],[1810,1328,1810,2433],[1607,1328,1810,1328]].forEach(l=>D.append("line").attr("x1",l[0]).attr("y1",l[1]).attr("x2",l[2]).attr("y2",l[3]).attr("stroke","#bbb").attr("stroke-width",2));
D.append("line").attr("x1",1205).attr("x2",1810).attr("y1",2433.5).attr("y2",2433.5).attr("stroke","#111").attr("stroke-width",2);
rowsD.forEach(r=>{const y=yD(r)+yD.bandwidth()/2;txt(D,r,1199,y+1,{size:23,anchor:"end"});D.append("line").attr("x1",1202).attr("x2",1205).attr("y1",y).attr("y2",y).attr("stroke","#111");});
</script></body></html>
